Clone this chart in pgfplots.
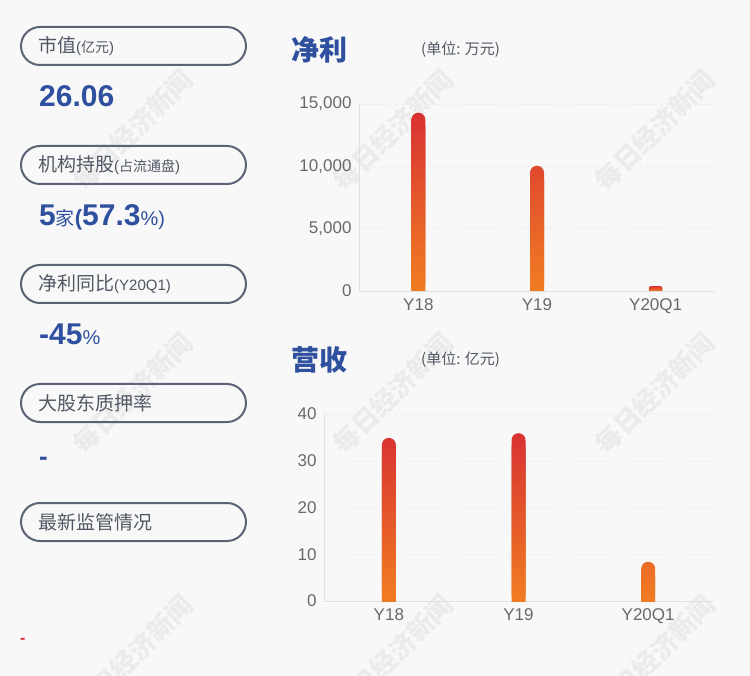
\documentclass[border=0pt]{standalone}
\usepackage{fontspec}
\usepackage{pgfplots}
\pgfplotsset{compat=1.18}
\setmainfont{Liberation Sans}
\newfontfamily\cjk{Noto Sans CJK SC}

\definecolor{bg}{RGB}{248,248,248}
\definecolor{navy}{RGB}{47,80,158}
\definecolor{boxline}{RGB}{90,100,116}
\definecolor{boxtext}{RGB}{80,88,100}
\definecolor{ticktext}{RGB}{105,105,105}
\definecolor{barTop}{RGB}{216,50,50}
\definecolor{barBot}{RGB}{240,125,34}
\definecolor{wm}{RGB}{235,235,235}
\definecolor{dashred}{RGB}{222,45,45}

\newcommand{\fs}[1]{\fontsize{#1}{#1}\selectfont}

\pgfplotsset{
  minibar/.style={
    scale only axis, height=187pt, anchor=south west,
    xmin=-0.5, xmax=2.5, ymin=0,
    xtick={0,1,2}, xticklabels={Y18,Y19,Y20Q1},
    axis x line*=bottom, axis y line*=left,
    axis line style={draw=black!12, line width=0.8pt, -},
    major tick length=0pt,
    ymajorgrids, grid style={dash pattern=on 4pt off 3pt, black!7},
    tick label style={font=\fs{17}, text=ticktext},
    yticklabel style={xshift=-4pt},
    xticklabel style={yshift=-4pt},
    /pgf/number format/assume math mode=true,
    /pgf/number format/1000 sep={,},
    scaled y ticks=false,
  },
  roundbar/.style={ybar, bar width=14pt, bar shift=0pt, draw=none,
    top color=barTop, bottom color=barBot, rounded corners=7pt},
}

\begin{document}
\begin{tikzpicture}
\path[use as bounding box, fill=bg] (0,0) rectangle (750pt,-676pt);
\clip (0,0) rectangle (750pt,-676pt);

% watermarks
\foreach \wx in {133,393,655}{
  \foreach \wy in {130,393,655}{
    \node[rotate=45, text=wm, font=\cjk\bfseries\fs{26}] at (\wx pt,-\wy pt) {每日经济新闻};
  }
}

% left panel
\foreach \by in {27,146,265,384,503}{
  \draw[boxline, line width=2pt, rounded corners=19pt] (21pt,-\by pt) rectangle (246pt,-\by pt-38pt);
}
\begin{scope}[every node/.style={anchor=west, inner sep=0pt, text=boxtext}]
\node at (38pt,-46pt) {{\cjk\fs{19}市值}{\fs{15}(}{\cjk\fs{14}亿元}{\fs{15})}};
\node at (38pt,-165pt) {{\cjk\fs{19}机构持股}{\fs{15}(}{\cjk\fs{14}占流通盘}{\fs{15})}};
\node at (38pt,-284pt) {{\cjk\fs{19}净利同比}{\fs{15}(Y20Q1)}};
\node at (38pt,-403pt) {{\cjk\fs{19}大股东质押率}};
\node at (38pt,-522pt) {{\cjk\fs{19}最新监管情况}};
\end{scope}
\begin{scope}[every node/.style={anchor=base west, inner sep=0pt, text=navy}]
\node at (39pt,-107pt) {\bfseries\fs{30}26.06};
\node at (39pt,-226pt) {\bfseries\fs{30}5{\cjk\mdseries\fs{19}家}{\fs{22}(}57.3{\mdseries\fs{20}\%)}};
\node at (39pt,-345pt) {\bfseries\fs{30}-45{\mdseries\fs{20}\%}};
\node at (39pt,-465pt) {\bfseries\fs{26}-};
\node[text=dashred] at (20pt,-643pt) {\bfseries\fs{16}-};
\end{scope}

% titles
\node[anchor=west, inner sep=0pt, text=navy, font=\cjk\bfseries\fs{28}] at (291pt,-50pt) {净利};
\node[anchor=west, inner sep=0pt, text=boxtext, font=\cjk\fs{15}] at (421pt,-50pt) {(单位: 万元)};
\node[anchor=west, inner sep=0pt, text=navy, font=\cjk\bfseries\fs{28}] at (291pt,-360pt) {营收};
\node[anchor=west, inner sep=0pt, text=boxtext, font=\cjk\fs{15}] at (421pt,-360pt) {(单位: 亿元)};

% net profit
\begin{axis}[minibar, at={(359pt,-291pt)}, width=356pt,
  ymax=15000, ytick={0,5000,10000,15000}]
\addplot[roundbar, yshift=-7pt] coordinates {(0,14300) (1,10050)};
\addplot[roundbar] coordinates {(0,14300) (1,10050)};
\addplot[roundbar, rounded corners=2.5pt, yshift=-3pt] coordinates {(2,400)};
\addplot[roundbar, rounded corners=2.5pt] coordinates {(2,400)};
\end{axis}

% revenue
\begin{axis}[minibar, at={(324pt,-601pt)}, width=389pt,
  ymax=40, ytick={0,10,20,30,40}]
\addplot[roundbar, yshift=-7pt] coordinates {(0,34.9) (1,35.9) (2,8.4)};
\addplot[roundbar] coordinates {(0,34.9) (1,35.9) (2,8.4)};
\end{axis}
\end{tikzpicture}
\end{document}
